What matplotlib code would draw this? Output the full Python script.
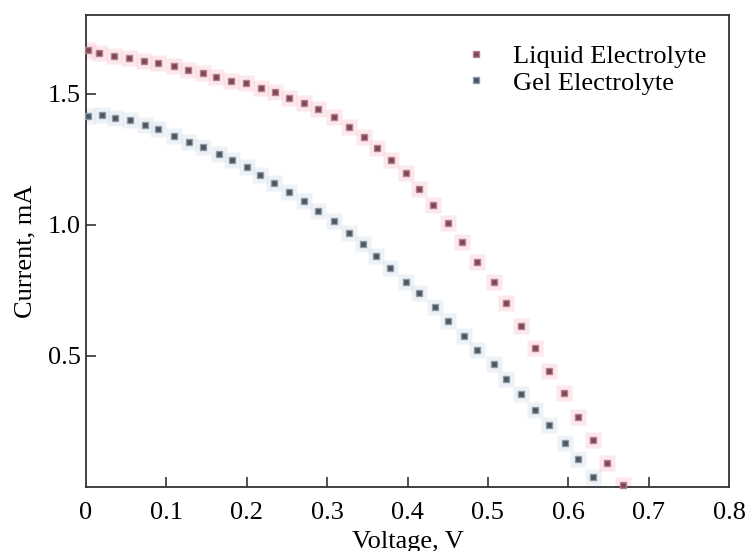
import matplotlib
matplotlib.use("Agg")
import matplotlib.pyplot as plt

plt.rcParams['font.family'] = ['Liberation Serif', 'DejaVu Serif']

# liquid electrolyte J-V points
liquid_v = [0.002, 0.016, 0.035, 0.053, 0.072, 0.090, 0.109, 0.127, 0.145, 0.162,
            0.181, 0.199, 0.218, 0.235, 0.253, 0.271, 0.289, 0.309, 0.327, 0.346,
            0.362, 0.379, 0.398, 0.414, 0.432, 0.450, 0.468, 0.487, 0.507, 0.522,
            0.541, 0.559, 0.576, 0.595, 0.612, 0.631, 0.648, 0.668]
liquid_i = [1.665, 1.656, 1.645, 1.637, 1.626, 1.618, 1.607, 1.592, 1.580, 1.565,
            1.550, 1.540, 1.523, 1.506, 1.485, 1.466, 1.443, 1.410, 1.374, 1.336,
            1.294, 1.248, 1.198, 1.136, 1.076, 1.008, 0.935, 0.859, 0.782, 0.702,
            0.615, 0.531, 0.444, 0.359, 0.267, 0.179, 0.092, 0.008]

# gel electrolyte J-V points
gel_v = [0.003, 0.020, 0.036, 0.055, 0.073, 0.090, 0.110, 0.128, 0.146, 0.165,
         0.182, 0.200, 0.217, 0.234, 0.253, 0.271, 0.289, 0.309, 0.327, 0.345,
         0.361, 0.378, 0.398, 0.414, 0.434, 0.450, 0.470, 0.486, 0.507, 0.522,
         0.541, 0.559, 0.576, 0.596, 0.612, 0.631]
gel_i = [1.415, 1.418, 1.408, 1.398, 1.382, 1.366, 1.338, 1.315, 1.296, 1.268,
         1.248, 1.221, 1.191, 1.158, 1.126, 1.090, 1.052, 1.013, 0.970, 0.925,
         0.882, 0.836, 0.782, 0.740, 0.687, 0.634, 0.576, 0.523, 0.469, 0.412,
         0.355, 0.294, 0.237, 0.168, 0.107, 0.038]

x_ticks = [0.1, 0.2, 0.3, 0.4, 0.5, 0.6, 0.7]
x_labels = ['0', '0.1', '0.2', '0.3', '0.4', '0.5', '0.6', '0.7', '0.8']
y_ticks = [0.5, 1.0, 1.5]
y_labels = ['0.5', '1.0', '1.5']

fig = plt.figure(figsize=(7.48, 5.51), dpi=100)
ax = fig.add_axes([0.115, 0.1162, 0.8596, 0.8566])

# soft halos behind the markers
ax.plot(liquid_v, liquid_i, 's', ms=12, color='#f9cdd7', alpha=0.45, mec='none', zorder=1)
ax.plot(gel_v, gel_i, 's', ms=11, color='#d8e3ee', alpha=0.45, mec='none', zorder=1)

ax.plot(liquid_v, liquid_i, 's', ms=5, color='#7e4656', mec='#b3808c', mew=1,
        label='Liquid Electrolyte', zorder=3, clip_on=False)
ax.plot(gel_v, gel_i, 's', ms=5, color='#4a555f', mec='#8e99a4', mew=1,
        label='Gel Electrolyte', zorder=3, clip_on=False)

ax.set_xlim(0, 0.8)
ax.set_ylim(0, 1.80)

ax.set_xticks(x_ticks)
ax.set_xticklabels([])
for i, lab in enumerate(x_labels):
    ax.text(i * 0.1, -0.058, lab, ha='center', va='top', fontsize=19,
            transform=ax.transData)
ax.set_yticks(y_ticks)
ax.set_yticklabels(y_labels, fontsize=19)
ax.tick_params(direction='in', length=7, width=1.2, color='#333333', pad=4)

for s in ax.spines.values():
    s.set_linewidth(1.3)
    s.set_color('#333333')

ax.set_xlabel('Voltage, V', fontsize=19)
ax.xaxis.set_label_coords(0.5, -0.093)
ax.set_ylabel('Current, mA', fontsize=19, labelpad=8)

leg = ax.legend(loc='upper right', bbox_to_anchor=(0.99, 0.97), frameon=False,
                fontsize=19, handlelength=1.0, handletextpad=0.9,
                labelspacing=0.1, borderaxespad=0.2)

fig.savefig('out.png', dpi=100)
